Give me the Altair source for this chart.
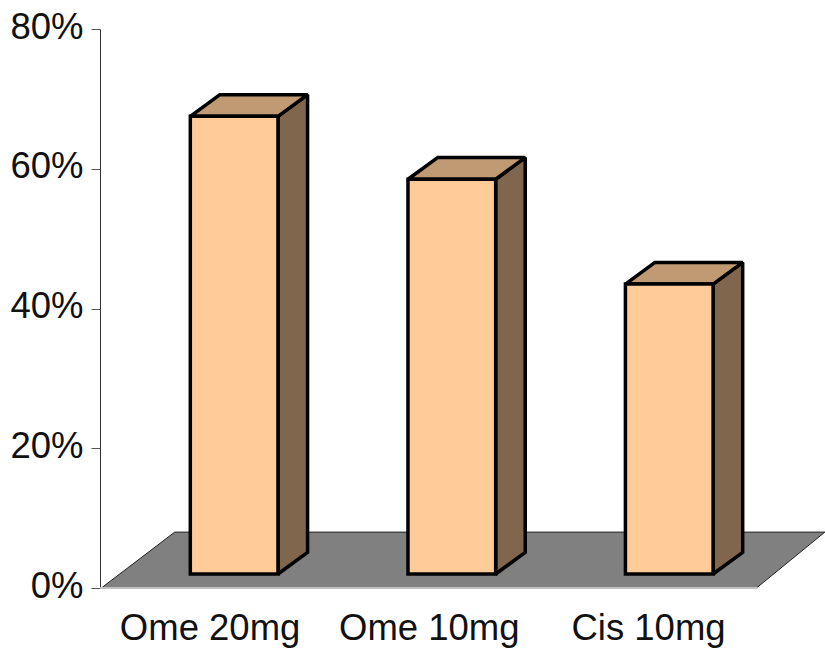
import altair as alt
import pandas as pd

# Response rates per treatment arm, in percent
categories = ["Ome 20mg", "Ome 10mg", "Cis 10mg"]
values = [65.5, 56.5, 41.5]
y_ticks = [0, 20, 40, 60, 80]

FONT = "Liberation Sans"
FRONT, TOP, SIDE = "#FFCC99", "#C09A73", "#7F664C"
FLOOR = "#808080"

# Oblique projection, in slot units along x and percent along y
SLOTS = 3.3075        # slots covered by the drawing width, walls included
FLOOR_DX, FLOOR_DY = 0.335, 8.0
FLOOR_LEFT, FLOOR_RIGHT = 0.006, 2.995
BAR_DX, BAR_DY = 0.135, 3.1
BAR_LIFT = 2.0
BAR_WIDTH = 0.4
BAR_SHIFT = [0.112, 0.105, 0.097]

x_scale = alt.Scale(domain=[0, SLOTS], nice=False, zero=False)
y_scale = alt.Scale(domain=[0, 80], nice=False)
x_plain = alt.X("x:Q", scale=x_scale, title=None)
y_plain = alt.Y("y:Q", scale=y_scale, title=None)

bars = []
for i, (cat, v) in enumerate(zip(categories, values)):
    x0 = i + 0.5 + BAR_SHIFT[i] - BAR_WIDTH / 2
    bars.append(dict(cat=cat, x0=x0, x1=x0 + BAR_WIDTH, base=BAR_LIFT, top=BAR_LIFT + v))
front_df = pd.DataFrame(bars)

side_rows, top_rows = [], []
for b in bars:
    side_rows += [
        dict(cat=b["cat"], x=b["x1"], lo=b["base"], hi=b["top"]),
        dict(cat=b["cat"], x=b["x1"] + BAR_DX, lo=b["base"] + BAR_DY, hi=b["top"] + BAR_DY),
    ]
    top_rows += [
        dict(cat=b["cat"], y=b["top"], a=b["x0"], c=b["x1"]),
        dict(cat=b["cat"], y=b["top"] + BAR_DY, a=b["x0"] + BAR_DX, c=b["x1"] + BAR_DX),
    ]
side_df = pd.DataFrame(side_rows)
top_df = pd.DataFrame(top_rows)

back_left = FLOOR_LEFT + FLOOR_DX
back_right = FLOOR_RIGHT + FLOOR_DX - 0.023
floor_df = pd.DataFrame([
    dict(y=0.0, a=FLOOR_LEFT, c=FLOOR_RIGHT),
    dict(y=FLOOR_DY, a=back_left, c=back_right),
])
edge_df = pd.DataFrame([
    dict(edge="left", x=FLOOR_LEFT, y=0.0),
    dict(edge="left", x=back_left, y=FLOOR_DY),
    dict(edge="back", x=back_left, y=FLOOR_DY),
    dict(edge="back", x=back_right, y=FLOOR_DY),
    dict(edge="right", x=back_right, y=FLOOR_DY),
    dict(edge="right", x=FLOOR_RIGHT, y=0.0),
])

floor = alt.Chart(floor_df).mark_area(orient="horizontal", color=FLOOR).encode(
    y=alt.Y("y:Q", scale=y_scale, title=None,
            axis=alt.Axis(values=y_ticks, labelExpr="datum.value + '%'", grid=False,
                          labelFont=FONT, labelFontSize=36.5, labelColor="#111111", labelPadding=8,
                          labelOffset=-2, labelFlush=False,
                          tickSize=9, tickColor="#555555", tickWidth=1,
                          domainColor="#333333", domainWidth=1)),
    x=alt.X("a:Q", scale=x_scale, title=None,
            axis=alt.Axis(values=[0.5, 1.5, 2.5],
                          labelExpr="['" + "','".join(categories) + "'][floor(datum.value)]",
                          labelFont=FONT, labelFontSize=36.5, labelColor="#111111", labelPadding=22,
                          labelBaseline="top", labelFlush=False, labelOverlap=False, labelLimit=400,
                          ticks=False, domain=False, grid=False)),
    x2="c:Q",
)

edges = alt.Chart(edge_df).mark_line(color="#222222", strokeWidth=1).encode(
    x=x_plain,
    y=y_plain,
    detail="edge:N",
)

baseline = alt.Chart(pd.DataFrame({"a": [0.0], "c": [3.0], "y": [0.0]})).mark_rule(
    color="#C0C0C0", strokeWidth=2
).encode(
    x=alt.X("a:Q", scale=x_scale, title=None),
    x2="c:Q",
    y=y_plain,
)

OUTLINE = dict(stroke="black", strokeWidth=3.5, strokeJoin="miter", strokeMiterLimit=1.5)

side = alt.Chart(side_df).mark_area(fill=SIDE, **OUTLINE).encode(
    x=x_plain,
    y=alt.Y("lo:Q", scale=y_scale, title=None),
    y2="hi:Q",
    detail="cat:N",
)

top = alt.Chart(top_df).mark_area(orient="horizontal", fill=TOP, **OUTLINE).encode(
    y=y_plain,
    x=alt.X("a:Q", scale=x_scale, title=None),
    x2="c:Q",
    detail="cat:N",
)

front = alt.Chart(front_df).mark_rect(fill=FRONT, **OUTLINE).encode(
    x=alt.X("x0:Q", scale=x_scale, title=None),
    x2="x1:Q",
    y=alt.Y("base:Q", scale=y_scale, title=None),
    y2="top:Q",
)

chart = alt.layer(floor, edges, baseline, side, top, front).properties(
    width=725,
    height=559,
    padding={"left": 100, "right": 0, "top": 29, "bottom": 60},
    autosize=alt.AutoSizeParams(type="none"),
    background="white",
).configure_view(stroke=None)

chart.save("out.html", embed_options={"renderer": "svg", "actions": False})
